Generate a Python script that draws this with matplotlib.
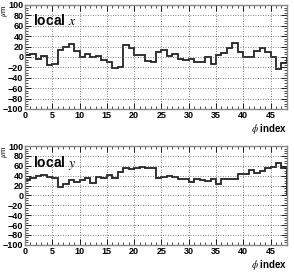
import numpy as np
import matplotlib
matplotlib.use("Agg")
import matplotlib.pyplot as plt
from matplotlib.ticker import MultipleLocator

# residual means per phi index (micrometres)
phi_index = np.arange(48)
local_x = [4, 5, -4, 1, -16, -14, 14, 19, 25, 12,
           0, 6, 0, 2, -6, -9, -21, -19, 23, 18,
           3, 3, -7, -10, 9, 13, 2, 5, -4, -6,
           -4, -9, -9, 0, -13, 4, 7, 18, 26, 9,
           0, 0, 12, 17, 10, 0, -23, -12]
local_y = [31, 36, 39, 41, 37, 35, 18, 23, 31, 27,
           32, 35, 26, 37, 36, 41, 35, 47, 55, 53,
           55, 57, 56, 55, 36, 38, 39, 38, 34, 34,
           28, 34, 31, 29, 34, 23, 33, 33, 33, 43,
           43, 51, 45, 49, 55, 57, 66, 56]

plt.rcParams['font.family'] = ['Liberation Sans Narrow', 'Liberation Sans', 'DejaVu Sans']
plt.rcParams['mathtext.fontset'] = 'stix'

fig = plt.figure(figsize=(2.94, 2.73), dpi=100)
ax1 = fig.add_axes([0.085, 0.601, 0.891, 0.381])
ax2 = fig.add_axes([0.085, 0.103, 0.891, 0.362])


def draw(ax, vals, label):
    edges = np.append(phi_index, phi_index[-1] + 1)
    ax.stairs(vals, edges, color='#222222', lw=1.3)
    ax.set_xlim(0, 48)
    ax.set_ylim(-100, 100)
    ax.xaxis.set_major_locator(MultipleLocator(5))
    ax.xaxis.set_minor_locator(MultipleLocator(1))
    ax.yaxis.set_major_locator(MultipleLocator(20))
    ax.yaxis.set_minor_locator(MultipleLocator(5))
    ax.tick_params(which='both', direction='in', top=True, right=True,
                   labelsize=6.5, pad=1.2)
    ax.tick_params(which='major', length=4, width=0.6)
    ax.tick_params(which='minor', length=2, width=0.5)
    for lab in ax.get_xticklabels() + ax.get_yticklabels():
        lab.set_fontweight('bold')
    ax.grid(True, which='major', ls=(0, (1, 2)), color='#555555', lw=0.6)
    for s in ax.spines.values():
        s.set_color('#888888')
        s.set_linewidth(1.0)
    ax.text(0.03, 0.92, 'local ' + label, transform=ax.transAxes,
            fontsize=10, fontweight='bold', va='top', ha='left')
    ax.text(1.0, -0.13, r'$\phi$ index', transform=ax.transAxes,
            fontsize=7, fontweight='bold', va='top', ha='right')
    ax.text(-0.077, 1.0, r'$\mu$m', transform=ax.transAxes, rotation=90,
            fontsize=5.5, va='top', ha='center')


draw(ax1, local_x, r'$x$')
draw(ax2, local_y, r'$y$')

fig.savefig('out.png', dpi=100)
